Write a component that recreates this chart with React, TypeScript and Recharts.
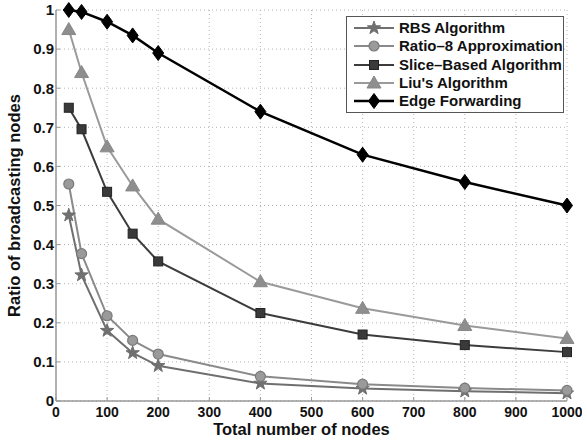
import React from 'react';
import { LineChart, Line, XAxis, YAxis, CartesianGrid, Label } from 'recharts';

const nodes = [25, 50, 100, 150, 200, 400, 600, 800, 1000];
const rbs = [0.475, 0.322, 0.18, 0.123, 0.09, 0.045, 0.032, 0.025, 0.02];
const ratio8 = [0.555, 0.377, 0.218, 0.155, 0.12, 0.063, 0.043, 0.033, 0.027];
const slice = [0.75, 0.695, 0.535, 0.428, 0.357, 0.225, 0.17, 0.143, 0.125];
const liu = [0.95, 0.84, 0.65, 0.55, 0.465, 0.305, 0.237, 0.193, 0.16];
const edge = [1.0, 0.995, 0.97, 0.935, 0.89, 0.74, 0.63, 0.56, 0.5];
const xTicks = [0, 100, 200, 300, 400, 500, 600, 700, 800, 900, 1000];
const yTicks = [0, 0.1, 0.2, 0.3, 0.4, 0.5, 0.6, 0.7, 0.8, 0.9, 1];

const data = nodes.map((n, i) => ({
  nodes: n,
  rbs: rbs[i],
  ratio8: ratio8[i],
  slice: slice[i],
  liu: liu[i],
  edge: edge[i],
}));

type Shape = 'star' | 'circle' | 'square' | 'triangle' | 'diamond';

const series: { key: string; name: string; color: string; fill: string; shape: Shape; width: number }[] = [
  { key: 'rbs', name: 'RBS Algorithm', color: '#6f6f6f', fill: '#707070', shape: 'star', width: 2 },
  { key: 'ratio8', name: 'Ratio\u20138 Approximation', color: '#8a8a8a', fill: '#9a9a9a', shape: 'circle', width: 2 },
  { key: 'slice', name: 'Slice\u2013Based Algorithm', color: '#3c3c3c', fill: '#3a3a3a', shape: 'square', width: 2 },
  { key: 'liu', name: "Liu's Algorithm", color: '#9a9a9a', fill: '#8e8e8e', shape: 'triangle', width: 2 },
  { key: 'edge', name: 'Edge Forwarding', color: '#000000', fill: '#000000', shape: 'diamond', width: 2.5 },
];

function marker(shape: Shape, cx: number, cy: number, color: string, fill: string, key?: any) {
  if (cx == null || cy == null) return <g key={key} />;
  switch (shape) {
    case 'star': {
      const pts: string[] = [];
      for (let k = 0; k < 10; k++) {
        const r = k % 2 === 0 ? 7 : 2.8;
        const a = -Math.PI / 2 + (k * Math.PI) / 5;
        pts.push(`${cx + r * Math.cos(a)},${cy + r * Math.sin(a)}`);
      }
      return <polygon key={key} points={pts.join(' ')} fill={fill} stroke={color} strokeWidth={1} />;
    }
    case 'circle':
      return <circle key={key} cx={cx} cy={cy} r={5} fill={fill} stroke="#7a7a7a" strokeWidth={1.2} />;
    case 'square':
      return <rect key={key} x={cx - 4.5} y={cy - 4.5} width={9} height={9} fill={fill} stroke="#222" strokeWidth={1} />;
    case 'triangle':
      return (
        <polygon
          key={key}
          points={`${cx},${cy - 7} ${cx + 7},${cy + 5} ${cx - 7},${cy + 5}`}
          fill={fill}
          stroke="#888"
          strokeWidth={1}
        />
      );
    case 'diamond':
    default:
      return (
        <polygon
          key={key}
          points={`${cx},${cy - 7.5} ${cx + 5.5},${cy} ${cx},${cy + 7.5} ${cx - 5.5},${cy}`}
          fill={fill}
          stroke={color}
          strokeWidth={1}
        />
      );
  }
}

const LegendBox = () => (
  <div
    style={{
      position: 'absolute',
      left: 346,
      top: 16,
      width: 205,
      border: '1.5px solid #555',
      background: '#fff',
      padding: '2px 6px 2px 5px',
      fontFamily: '"Liberation Sans", Arial, sans-serif',
      fontWeight: 'bold',
      fontSize: 15,
      color: '#111',
      lineHeight: '18.3px',
    }}
  >
    {series.map((s) => (
      <div key={s.key} style={{ display: 'flex', alignItems: 'center', height: 18.3 }}>
        <svg width={44} height={18} style={{ flex: 'none' }}>
          <line x1={2} y1={9} x2={42} y2={9} stroke={s.color} strokeWidth={s.width} />
          {marker(s.shape, 22, 9, s.color, s.fill)}
        </svg>
        <span style={{ marginLeft: 3, whiteSpace: 'nowrap' }}>{s.name}</span>
      </div>
    ))}
  </div>
);

const tickStyle = {
  fontFamily: '"Liberation Sans", Arial, sans-serif',
  fontWeight: 'bold' as const,
  fontSize: 15,
  fill: '#111',
};

export default function App() {
  return (
    <div style={{ position: 'absolute', left: 0, top: 0, width: 582, height: 444, background: '#fff' }}>
      <LineChart width={582} height={444} data={data} margin={{ top: 10, right: 15, left: 0, bottom: 0 }}>
        <CartesianGrid stroke="#b5b5b5" strokeDasharray="1 3" />
        <XAxis
          dataKey="nodes"
          type="number"
          domain={[0, 1000]}
          ticks={xTicks}
          interval={0}
          height={43}
          axisLine={{ stroke: '#999', strokeWidth: 1.5 }}
          tickLine={{ stroke: '#999' }}
          tickSize={-4}
          tickMargin={10}
          tick={{ ...tickStyle, fontSize: 14 }}
        >
          <Label
            value="Total number of nodes"
            position="insideBottom"
            offset={9}
            dx={-10}
            style={{ ...tickStyle, fontSize: 16.5, fill: '#111' }}
          />
        </XAxis>
        <YAxis
          type="number"
          domain={[0, 1]}
          ticks={yTicks}
          interval={0}
          width={56}
          axisLine={{ stroke: '#999', strokeWidth: 1.5 }}
          tickLine={{ stroke: '#999' }}
          tickSize={-4}
          tickMargin={6}
          tick={tickStyle}
          tickFormatter={(v: number) => (v === 0 ? '0' : v === 1 ? '1' : v.toFixed(1))}
        >
          <Label
            value="Ratio of broadcasting nodes"
            angle={-90}
            position="insideLeft"
            offset={14}
            style={{ ...tickStyle, fontSize: 16.5, fill: '#111', textAnchor: 'middle' }}
          />
        </YAxis>
        {series.map((s) => (
          <Line
            key={s.key}
            type="linear"
            dataKey={s.key}
            name={s.name}
            stroke={s.color}
            strokeWidth={s.width}
            isAnimationActive={false}
            dot={(p: any) => marker(s.shape, p.cx, p.cy, s.color, s.fill, `${s.key}-${p.index}`)}
            activeDot={false}
          />
        ))}
      </LineChart>
      <LegendBox />
    </div>
  );
}
